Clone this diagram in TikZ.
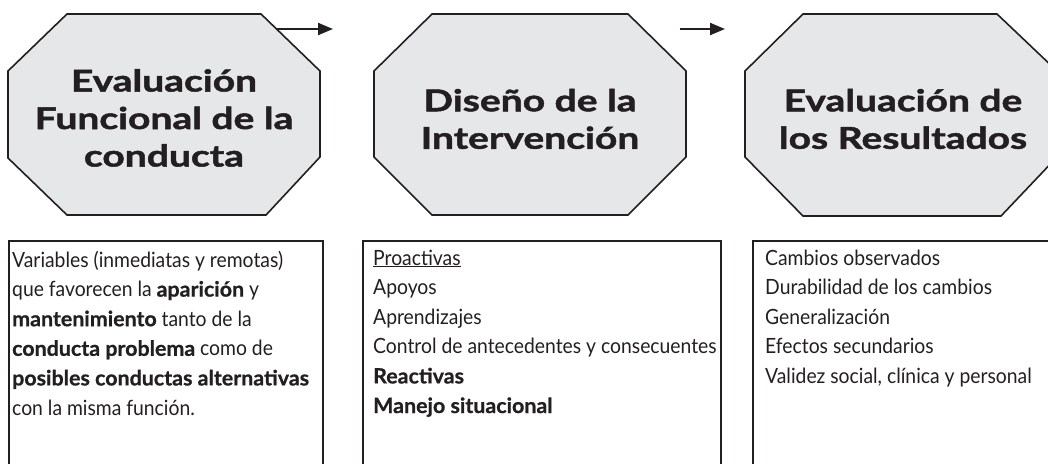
\documentclass[tikz,border=0pt]{standalone}
\usepackage{fontspec}
\setmainfont{Lato}[UprightFeatures={FakeStretch=0.92},BoldFeatures={FakeStretch=1.02,FakeBold=0.8}]
\newfontfamily\titlefont{Lato}[UprightFont={* Bold},FakeStretch=1.3,FakeBold=1.6]
\usetikzlibrary{arrows.meta}
\definecolor{ink}{HTML}{231F20}
\definecolor{octfill}{HTML}{E6E7E8}
\tikzset{
  octo/.style={draw=ink, fill=octfill, line width=1.6pt, line join=miter},
  octtext/.style={font=\titlefont\fontsize{30}{37.5}\selectfont, text=ink, align=center, inner sep=0pt},
  listbox/.style={draw=ink, line width=1.1pt},
  listtext/.style={font=\fontsize{21}{29.6}\selectfont, text=ink, inner sep=0pt, anchor=base west},
  flowarrow/.style={draw=ink, line width=2pt, -{Triangle[length=15pt,width=12pt]}}
}
\newcommand{\boxlines}[1]{\parbox[t]{360pt}{\raggedright #1}}
\begin{document}
\begin{tikzpicture}[x=1pt,y=-1pt]
\useasboundingbox (0,0) rectangle (1048,463);
\clip (0,0) rectangle (1048,463);
% octagons
\draw[octo] (67,14) -- (261,14) -- (320,71) -- (320,157) -- (266,215) -- (67,215) -- (8,158) -- (8,71) -- cycle;
\draw[octo] (432,14) -- (628,14) -- (686,71) -- (686,157) -- (628,215) -- (432,215) -- (374,157) -- (374,71) -- cycle;
\draw[octo] (803,14) -- (997,14) -- (1057,71) -- (1057,157) -- (1001,216) -- (803,216) -- (745,157) -- (745,71) -- cycle;
\node[octtext] (o1) at (164,118) {Evaluación\\Funcional de la\\conducta};
\node[octtext] (o2) at (530,119) {Diseño de la\\Intervención};
\node[octtext] (o3) at (903,119) {Evaluación de\\los Resultados};
% arrows
\coordinate (a1s) at (276,29);
\coordinate (a1e) at (333,29);
\coordinate (a2s) at (680,29);
\coordinate (a2e) at (725,29);
\draw[flowarrow] (a1s) -- (a1e);
\draw[flowarrow] (a2s) -- (a2e);
% boxes
\draw[listbox] (9,480) -- (9,241) -- (323,241) -- (323,480);
\draw[listbox] (363,480) -- (363,241) -- (721,241) -- (721,480);
\draw[listbox] (753,480) -- (753,241) -- (1060,241) -- (1060,480);
\node[listtext] (t1) at (12,267) {\boxlines{Variables (inmediatas y remotas)\\que favorecen la \textbf{aparición} y\\\textbf{mantenimiento} tanto de la\\\textbf{conducta problema} como de\\\textbf{posibles conductas alternativas}\\con la misma función.}};
\node[listtext] (t2) at (373,265) {\boxlines{\underline{Proactivas}\\Apoyos\\Aprendizajes\\Control de antecedentes y consecuentes\\\textbf{Reactivas}\\\textbf{Manejo situacional}}};
\node[listtext] (t3) at (765,265) {\boxlines{Cambios observados\\Durabilidad de los cambios\\Generalización\\Efectos secundarios\\Validez social, clínica y personal}};
\end{tikzpicture}
\end{document}
